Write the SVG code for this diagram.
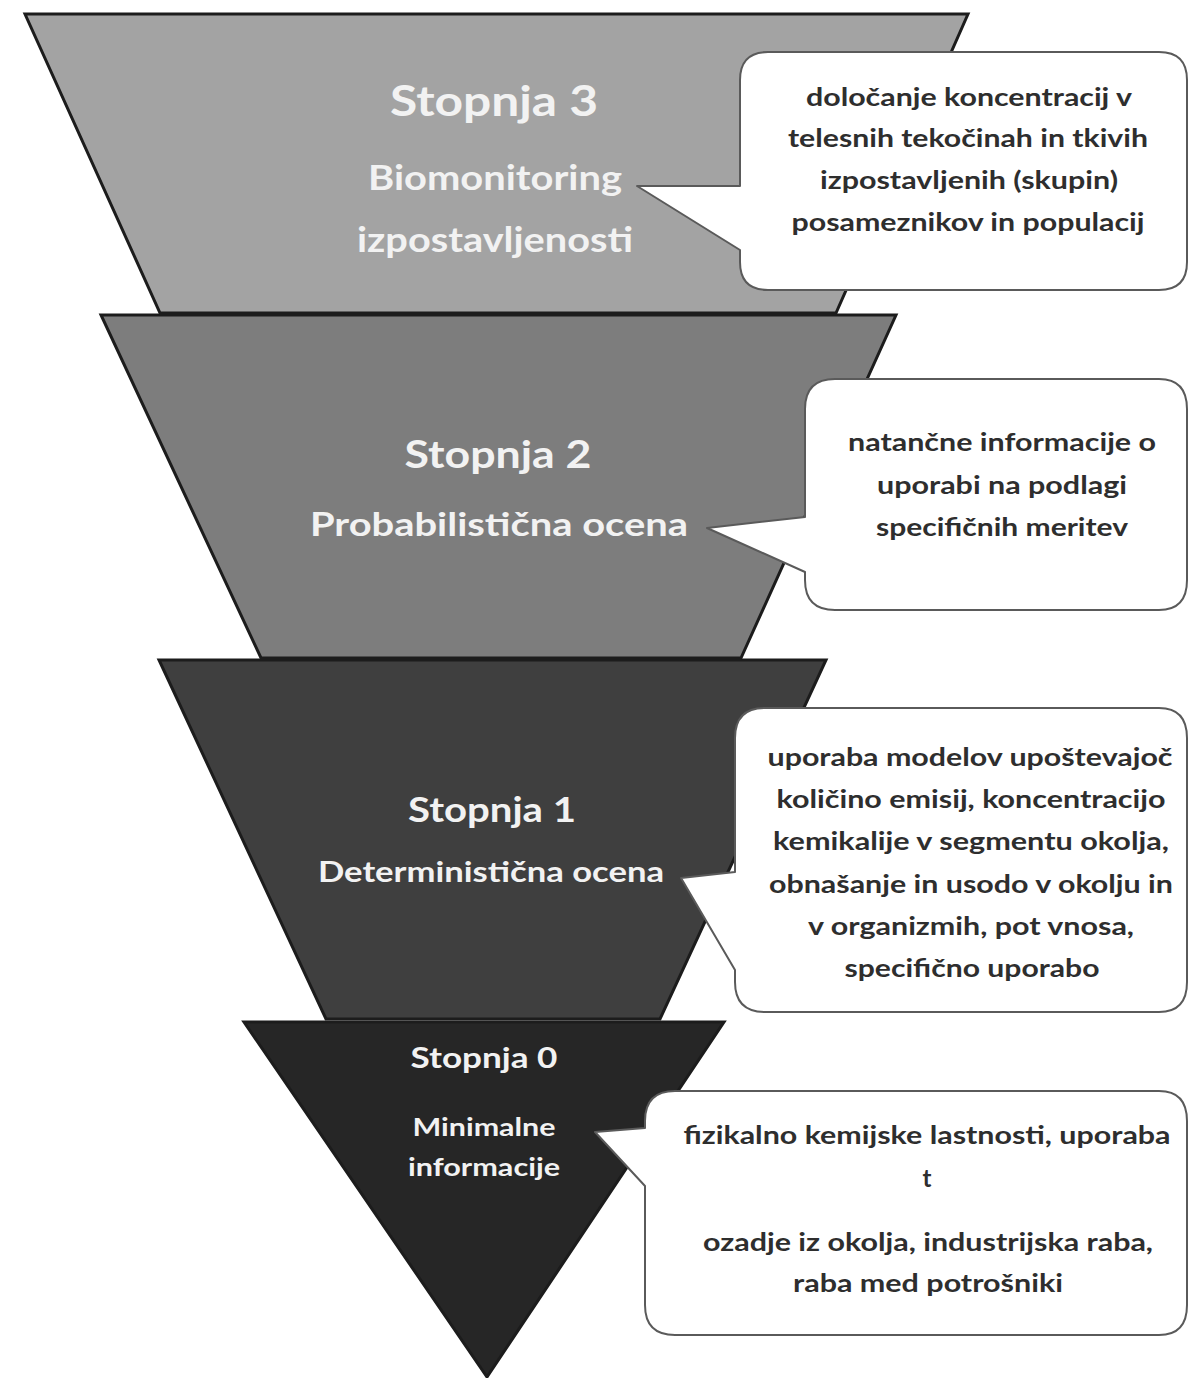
<svg xmlns="http://www.w3.org/2000/svg" width="1190" height="1378" viewBox="0 0 1190 1378">
<style>
.tier{stroke:#1c1c1c;stroke-width:3;stroke-linejoin:miter}
.lbl{font-family:Lato,"Open Sans","Liberation Sans",sans-serif;font-weight:bold;fill:#f2f2f2;text-anchor:middle}
.bubble{fill:#ffffff;stroke:#5a5a5a;stroke-width:2;stroke-linejoin:round}
.note{font-family:Lato,"Open Sans","Liberation Sans",sans-serif;font-weight:bold;font-size:24px;fill:#2e2e2e;text-anchor:middle}
</style>
<rect width="1190" height="1378" fill="#ffffff"/>
<g id="tier3">
<polygon class="tier" fill="#a3a3a3" points="25,14 968,14 836,313 160,313"/>
<text class="lbl" x="494" y="116" font-size="42" textLength="208" lengthAdjust="spacingAndGlyphs">Stopnja 3</text>
<text class="lbl" x="495" y="190" font-size="34" textLength="254" lengthAdjust="spacingAndGlyphs">Biomonitoring</text>
<text class="lbl" x="495" y="252" font-size="34" textLength="276" lengthAdjust="spacingAndGlyphs">izpostavljenosti</text>
</g>
<g id="tier2">
<polygon class="tier" fill="#7d7d7d" points="101,315 896,315 741,658 261,658"/>
<text class="lbl" x="498" y="468" font-size="38" textLength="187" lengthAdjust="spacingAndGlyphs">Stopnja 2</text>
<text class="lbl" x="499" y="536" font-size="32" textLength="378" lengthAdjust="spacingAndGlyphs">Probabilistična ocena</text>
</g>
<g id="tier1">
<polygon class="tier" fill="#3f3f3f" points="159,660 826,660 660,1019 326,1019"/>
<text class="lbl" x="492" y="822" font-size="34" textLength="168" lengthAdjust="spacingAndGlyphs">Stopnja 1</text>
<text class="lbl" x="491" y="882" font-size="29" textLength="346" lengthAdjust="spacingAndGlyphs">Deterministična ocena</text>
</g>
<g id="tier0">
<polygon class="tier" fill="#262626" points="244,1022 724,1022 487,1377"/>
<text class="lbl" x="484" y="1068" font-size="29" textLength="147" lengthAdjust="spacingAndGlyphs">Stopnja 0</text>
<text class="lbl" x="484" y="1136" font-size="25" textLength="143" lengthAdjust="spacingAndGlyphs">Minimalne</text>
<text class="lbl" x="484" y="1176" font-size="25" textLength="152" lengthAdjust="spacingAndGlyphs">informacije</text>
</g>
<g id="connectors">
<path id="bubble3" class="bubble" d="M768,52 H1159 Q1187,52 1187,80 V262 Q1187,290 1159,290 H768 Q740,290 740,262 V250 L637,186 L740,186 V80 Q740,52 768,52 Z"/>
<path id="bubble2" class="bubble" d="M835,379 H1159 Q1187,379 1187,409 V580 Q1187,610 1159,610 H835 Q805,610 805,580 V572 L707,528 L805,517 V409 Q805,379 835,379 Z"/>
<path id="bubble1" class="bubble" d="M765,708 H1159 Q1187,708 1187,738 V982 Q1187,1012 1159,1012 H765 Q735,1012 735,982 V970 L681,878 L735,872 V738 Q735,708 765,708 Z"/>
<path id="bubble0" class="bubble" d="M675,1091 H1159 Q1187,1091 1187,1121 V1305 Q1187,1335 1159,1335 H675 Q645,1335 645,1305 V1186 L595,1132 L645,1128 V1121 Q645,1091 675,1091 Z"/>
</g>
<g id="note3">
<text class="note" x="969" y="106" textLength="326" lengthAdjust="spacingAndGlyphs">določanje koncentracij v</text>
<text class="note" x="968" y="147" textLength="360" lengthAdjust="spacingAndGlyphs">telesnih tekočinah in tkivih</text>
<text class="note" x="969" y="189" textLength="298" lengthAdjust="spacingAndGlyphs">izpostavljenih (skupin)</text>
<text class="note" x="968" y="231" textLength="353" lengthAdjust="spacingAndGlyphs">posameznikov in populacij</text>
</g>
<g id="note2">
<text class="note" x="1002" y="451" textLength="308" lengthAdjust="spacingAndGlyphs">natančne informacije o</text>
<text class="note" x="1002" y="494" textLength="250" lengthAdjust="spacingAndGlyphs">uporabi na podlagi</text>
<text class="note" x="1002" y="536" textLength="252" lengthAdjust="spacingAndGlyphs">specifičnih meritev</text>
</g>
<g id="note1">
<text class="note" x="970" y="766" textLength="405" lengthAdjust="spacingAndGlyphs">uporaba modelov upoštevajoč</text>
<text class="note" x="971" y="808" textLength="389" lengthAdjust="spacingAndGlyphs">količino emisij, koncentracijo</text>
<text class="note" x="971" y="850" textLength="396" lengthAdjust="spacingAndGlyphs">kemikalije v segmentu okolja,</text>
<text class="note" x="971" y="893" textLength="404" lengthAdjust="spacingAndGlyphs">obnašanje in usodo v okolju in</text>
<text class="note" x="971" y="935" textLength="326" lengthAdjust="spacingAndGlyphs">v organizmih, pot vnosa,</text>
<text class="note" x="972" y="977" textLength="255" lengthAdjust="spacingAndGlyphs">specifično uporabo</text>
</g>
<g id="note0">
<text class="note" x="927" y="1144" textLength="487" lengthAdjust="spacingAndGlyphs">fizikalno kemijske lastnosti, uporaba</text>
<text class="note" x="927" y="1187">t</text>
<text class="note" x="928" y="1251" textLength="450" lengthAdjust="spacingAndGlyphs">ozadje iz okolja, industrijska raba,</text>
<text class="note" x="928" y="1292" textLength="270" lengthAdjust="spacingAndGlyphs">raba med potrošniki</text>
</g>
</svg>
